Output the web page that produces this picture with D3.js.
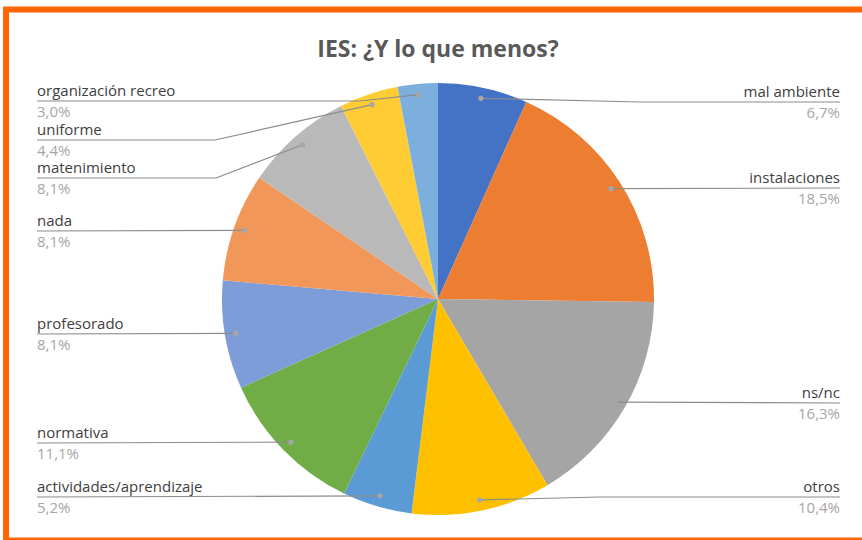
<!DOCTYPE html>
<html><head><meta charset="utf-8">
<script src="https://cdn.jsdelivr.net/npm/d3@7"></script>
<style>html,body{margin:0;padding:0;background:#fff;}svg{display:block;}</style>
</head><body>
<svg id="c" width="862" height="540"></svg>
<script>
// ---- data ----
const categories = ["mal ambiente","instalaciones","ns/nc","otros","actividades/aprendizaje","normativa","profesorado","nada","matenimiento","uniforme","organización recreo"];
const values = [6.7,18.5,16.3,10.4,5.2,11.1,8.1,8.1,8.1,4.4,3.0];
const percentLabels = ["6,7%","18,5%","16,3%","10,4%","5,2%","11,1%","8,1%","8,1%","8,1%","4,4%","3,0%"];
const colors = ["#4472C4","#ED7D31","#A5A5A5","#FFC000","#5B9BD5","#70AD47","#7E9CD8","#F1975A","#B9B9B9","#FFCD33","#7CAFDD"];
const title = "IES: ¿Y lo que menos?";

// ---- layout (label placement, not data) ----
const labelLineY = [102,188,403,497,497,443,334,231,178,140,101];
const labelElbowX = [640,null,null,600,null,null,null,null,216,215,360];

const svg = d3.select("#c");
const cx = 438, cy = 299, R = 216;
const FONT = "'Open Sans', Lato, sans-serif";

// frame
svg.append("rect").attr("x",6).attr("y",9.5).attr("width",880).attr("height",531)
  .attr("fill","none").attr("stroke","#FF6600").attr("stroke-width",6);

svg.append("text").attr("x",cx).attr("y",57).attr("text-anchor","middle")
  .attr("font-family",FONT).attr("font-weight","bold")
  .attr("font-size",23).attr("fill","#595959").text(title);

const pie = d3.pie().sort(null).value(d=>d);
const arcs = pie(values);
const arc = d3.arc().innerRadius(0).outerRadius(R);
const g = svg.append("g").attr("transform",`translate(${cx},${cy})`);
g.selectAll("path").data(arcs).join("path")
  .attr("d",arc).attr("fill",(d,i)=>colors[i]);

// leader lines + labels
const anchorArc = d3.arc().innerRadius(R*0.95).outerRadius(R*0.95);
const leftX = 37, rightX = 840;
arcs.forEach((a,i)=>{
  const [ax,ay] = anchorArc.centroid(a);
  const px = cx+ax, py = cy+ay;
  const mid = (a.startAngle+a.endAngle)/2;
  const right = mid < Math.PI;
  const ly = labelLineY[i];
  const tx = right ? rightX : leftX;
  const pts = [[tx,ly]];
  if (labelElbowX[i] != null) pts.push([labelElbowX[i],ly]);
  pts.push([px,py]);
  svg.append("path").attr("d",d3.line()(pts)).attr("fill","none")
    .attr("stroke","#8c8c8c").attr("stroke-width",1.2);
  svg.append("circle").attr("cx",px).attr("cy",py).attr("r",2.6).attr("fill","#a6a6a6");
  const anchor = right ? "end" : "start";
  svg.append("text").attr("x",tx).attr("y",ly-5.5).attr("text-anchor",anchor)
    .attr("font-family",FONT).attr("font-size",15)
    .attr("fill","#404040").text(categories[i]);
  svg.append("text").attr("x",tx).attr("y",ly+16).attr("text-anchor",anchor)
    .attr("font-family",FONT).attr("font-size",15)
    .attr("fill","#a6a6a6").text(percentLabels[i]);
});
</script>
</body></html>
